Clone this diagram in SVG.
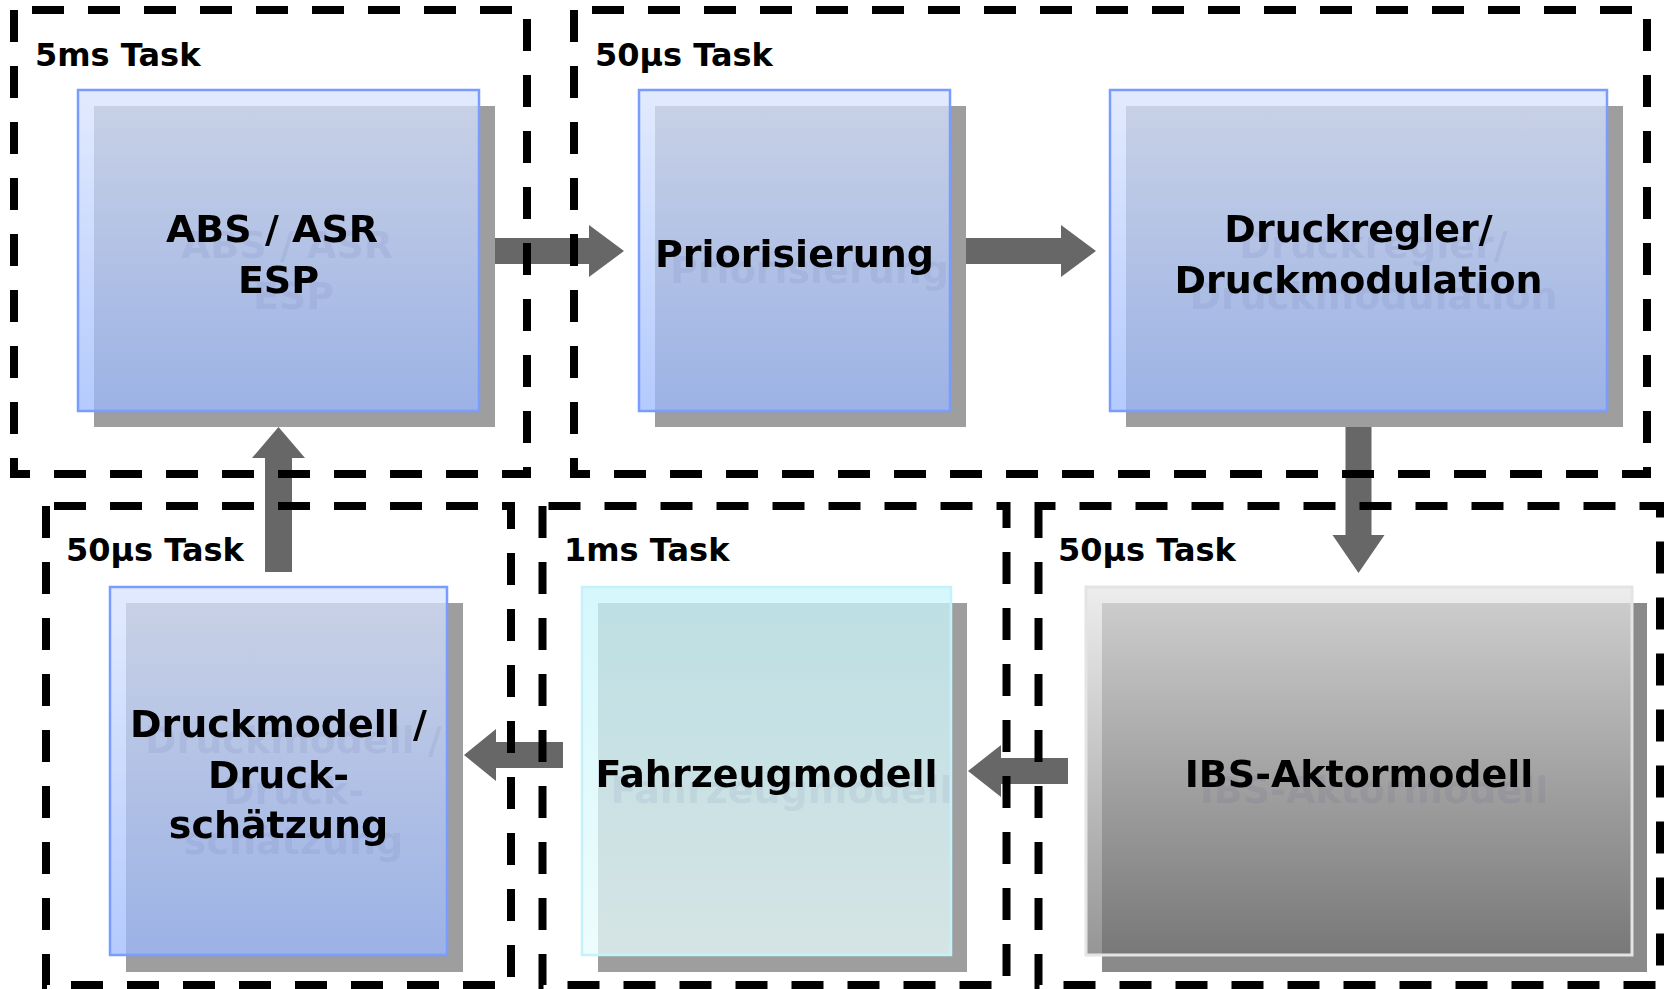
<svg xmlns="http://www.w3.org/2000/svg" width="1664" height="989" viewBox="0 0 1664 989">
<defs>
<linearGradient id="gBlue" x1="0" y1="0" x2="0" y2="1">
<stop offset="0" stop-color="#d8e3fd"/>
<stop offset="1" stop-color="#9bb9fd"/>
</linearGradient>
<linearGradient id="gCyan" x1="0" y1="0" x2="0" y2="1">
<stop offset="0" stop-color="#c7f5fb"/>
<stop offset="1" stop-color="#e8fbfc"/>
</linearGradient>
<linearGradient id="gGray" x1="0" y1="0" x2="0" y2="1">
<stop offset="0" stop-color="#e7e7e7"/>
<stop offset="1" stop-color="#727272"/>
</linearGradient>
<filter id="ghost" x="-20%" y="-60%" width="150%" height="260%">
<feOffset in="SourceAlpha" dx="15" dy="16" result="o"/>
<feFlood flood-color="#1a2a60" flood-opacity="0.055"/>
<feComposite in2="o" operator="in" result="s"/>
<feMerge><feMergeNode in="s"/><feMergeNode in="SourceGraphic"/></feMerge>
</filter>
<style>
.bg{fill:#ffffff}
.frame{fill:none;stroke:#000;stroke-width:8;stroke-dasharray:32 24}
.tl{font-family:"DejaVu Sans",Verdana,sans-serif;font-weight:bold;font-size:32px;fill:#000}
.nt{font-family:"DejaVu Sans",Verdana,sans-serif;font-weight:bold;font-size:38px;fill:#000;text-anchor:middle}
.sh{fill:#9e9e9e}
.shd{fill:#8a8a8a}
.blue{fill:url(#gBlue);fill-opacity:0.75;stroke:#7a9cff;stroke-width:2.5}
.cyan{fill:url(#gCyan);fill-opacity:0.75;stroke:#c4f2fa;stroke-width:2.5}
.gray{fill:url(#gGray);fill-opacity:0.75;stroke:#e4e4e4;stroke-width:3}
.arr{fill:#676767}
</style>
</defs>
<rect class="bg" x="0" y="0" width="1664" height="989"/>

<g id="connectors">
<polygon class="arr" points="494,238 589,238 589,225 624,251 589,277 589,264 494,264"/>
<polygon class="arr" points="964,238 1061,238 1061,225 1096,251 1061,277 1061,264 964,264"/>
<polygon class="arr" points="1345.5,427 1371.5,427 1371.5,535 1384.5,535 1358.5,573 1332.5,535 1345.5,535"/>
<polygon class="arr" points="1068,758 1001,758 1001,745 968,771 1001,797 1001,784 1068,784"/>
<polygon class="arr" points="563,742 496,742 496,729 464,755 496,781 496,768 563,768"/>
<polygon class="arr" points="265,572 265,458 252,458 278.5,427 305,458 292,458 292,572"/>
</g>

<g id="task-5ms">
<path class="frame" d="M14,10 V474 H527 V10 Z"/>
<text class="tl" x="35" y="66">5ms Task</text>
</g>
<g id="task-50us-top">
<path class="frame" d="M574,10 V474 H1647 V10 Z"/>
<text class="tl" x="595" y="66">50µs Task</text>
</g>
<g id="task-50us-bl">
<path class="frame" d="M46,506 V985 H511 V506 Z"/>
<text class="tl" x="66" y="561">50µs Task</text>
</g>
<g id="task-1ms">
<path class="frame" d="M542.5,506 V985 H1006.5 V506 Z"/>
<text class="tl" x="564" y="561">1ms Task</text>
</g>
<g id="task-50us-br">
<path class="frame" d="M1038.5,506 V985 H1660 V506 Z"/>
<text class="tl" x="1058" y="561">50µs Task</text>
</g>

<g id="node-abs">
<rect class="sh" x="94" y="106" width="401" height="321"/>
<rect class="blue" x="78" y="90" width="401" height="321"/>
<g filter="url(#ghost)">
<text class="nt" x="272" y="242">ABS / ASR</text>
<text class="nt" x="278.5" y="293">ESP</text>
</g>
</g>

<g id="node-prio">
<rect class="sh" x="655" y="106" width="311" height="321"/>
<rect class="blue" x="639" y="90" width="311" height="321"/>
<g filter="url(#ghost)">
<text class="nt" x="794.5" y="267">Priorisierung</text>
</g>
</g>

<g id="node-druckregler">
<rect class="sh" x="1126" y="106" width="497" height="321"/>
<rect class="blue" x="1110" y="90" width="497" height="321"/>
<g filter="url(#ghost)">
<text class="nt" x="1358.5" y="242">Druckregler/</text>
<text class="nt" x="1358.5" y="293">Druckmodulation</text>
</g>
</g>

<g id="node-druckmodell">
<rect class="sh" x="126" y="603" width="337" height="369"/>
<rect class="blue" x="110" y="587" width="337" height="368"/>
<g filter="url(#ghost)">
<text class="nt" x="278.5" y="737">Druckmodell /</text>
<text class="nt" x="278.5" y="788">Druck-</text>
<text class="nt" x="278.5" y="838">schätzung</text>
</g>
</g>

<g id="node-fahrzeug">
<rect class="sh" x="598" y="603" width="369" height="369"/>
<rect class="cyan" x="582" y="587" width="369" height="368"/>
<g filter="url(#ghost)">
<text class="nt" x="766.5" y="787">Fahrzeugmodell</text>
</g>
</g>

<g id="node-ibs">
<rect class="shd" x="1102" y="603" width="545" height="369"/>
<rect class="gray" x="1086" y="587" width="546" height="368"/>
<g filter="url(#ghost)">
<text class="nt" x="1359" y="787">IBS-Aktormodell</text>
</g>
</g>
</svg>
